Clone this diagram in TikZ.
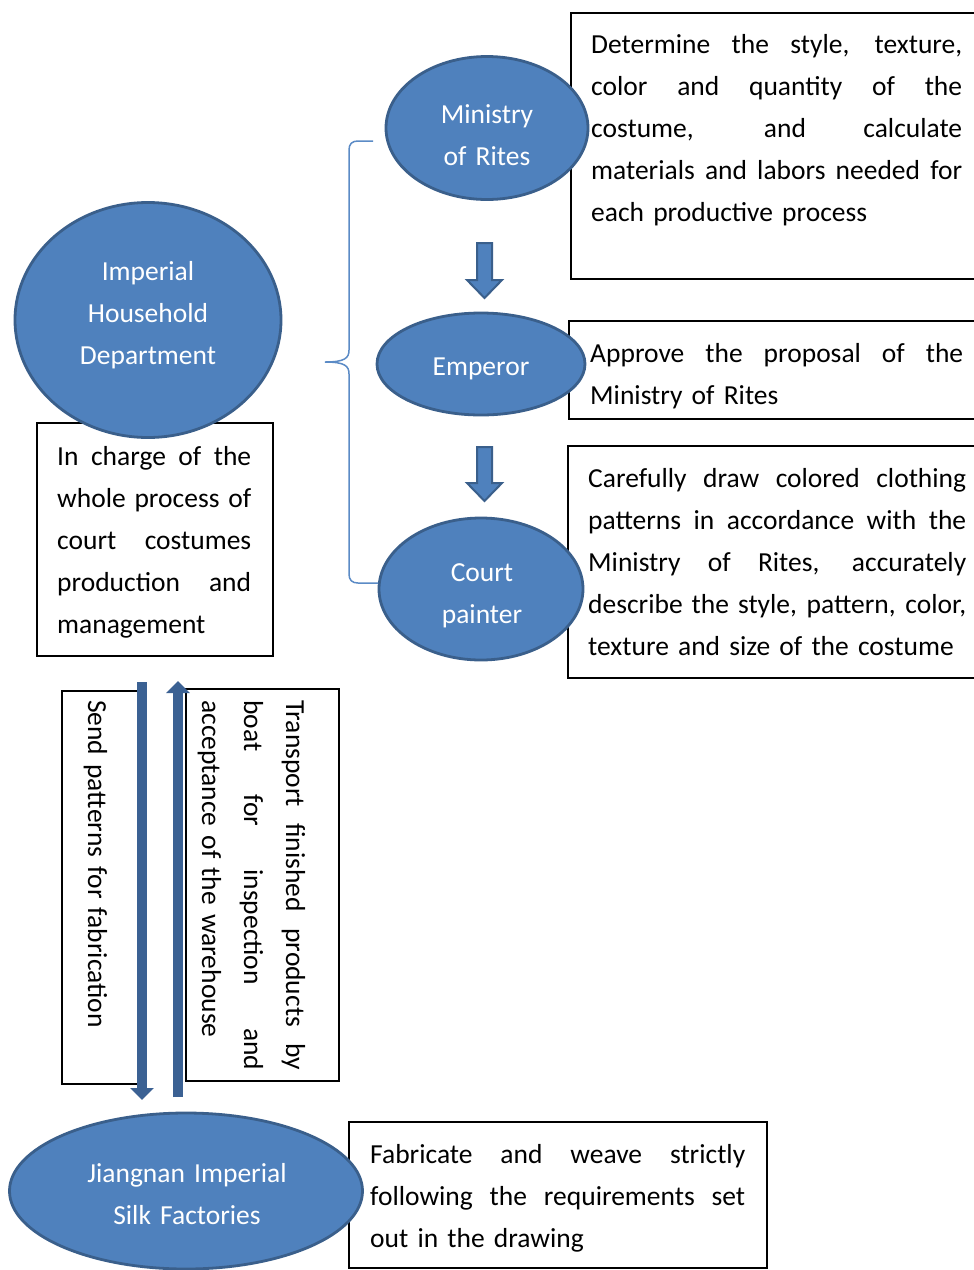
\documentclass[tikz,border=0pt]{standalone}
\usepackage{fontspec}
\setmainfont{Carlito}
\usetikzlibrary{shapes.geometric,arrows.meta}
\definecolor{ellfill}{HTML}{4F81BD}
\definecolor{elldraw}{HTML}{3A5F8B}
\definecolor{arrowc}{HTML}{3B6193}
\definecolor{bracec}{HTML}{5B8BC6}
\newcommand{\jw}{300pt}
\newcommand{\jl}[1]{\makebox[\jw][s]{\spaceskip=0.23em plus 1fil\relax #1}}
\begin{document}
\begin{tikzpicture}[x=1pt,y=-1pt,
  frame/.style={draw=black,line width=1.8pt,fill=white,rectangle,inner sep=0pt,anchor=north west},
  txt/.style={inner sep=0pt,anchor=base west,align=left,text width=#1,
    execute at begin node={\renewcommand{\jw}{#1}},font=\fontsize{27.5}{42}\selectfont},
  ell/.style={ellipse,fill=ellfill,draw=elldraw,line width=2.8pt,inner sep=0pt},
  etxt/.style={inner sep=0pt,anchor=base,align=center,text width=260pt,text=white,font=\fontsize{27.5}{42}\selectfont},
  blockarrow/.style={fill=ellfill,draw=elldraw,line width=2pt,line join=miter},
  longarrow/.style={line width=10pt,draw=arrowc,-{Triangle[width=23pt,length=12pt]}}
]
\clip (0,0) rectangle (974,1270);
\fill[white] (0,0) rectangle (974,1270);

% frames
\node[frame,minimum width=410pt,minimum height=266pt] (f1) at (570,12) {};
\node[frame,minimum width=410pt,minimum height=98pt] (f2) at (568,320) {};
\node[frame,minimum width=410pt,minimum height=232pt] (f3) at (567,445) {};
\node[frame,minimum width=236pt,minimum height=233pt] (f4) at (36,422) {};
\node[frame,minimum width=82pt,minimum height=393pt] (f5) at (61,690) {};
\node[frame,minimum width=153pt,minimum height=392pt] (f6) at (185,688) {};
\node[frame,minimum width=418pt,minimum height=146pt] (f7) at (348,1121) {};

% frame texts
\node[txt=371pt] (t1) at (591,53) {\jl{Determine the style, texture,}\\\jl{color and quantity of the}\\\jl{costume, and calculate}\\\jl{materials and labors needed for}\\each productive process};
\node[txt=373pt] (t2) at (590,362) {\jl{Approve the proposal of the}\\Ministry of Rites};
\node[txt=378pt] (t3) at (588,487) {\jl{Carefully draw colored clothing}\\\jl{patterns in accordance with the}\\\jl{Ministry of Rites, accurately}\\\jl{describe the style, pattern, color,}\\texture and size of the costume};
\node[txt=194pt] (t4) at (57,465) {\jl{In charge of the}\\\jl{whole process of}\\\jl{court costumes}\\\jl{production and}\\management};
\node[txt=375pt] (t7) at (370,1163) {\jl{Fabricate and weave strictly}\\\jl{following the requirements set}\\out in the drawing};
\node[txt=340pt,rotate=-90] (t5) at (88,700) {Send patterns for fabrication};
\node[txt=370pt,rotate=-90] (t6) at (286,700) {\jl{Transport finished products by}\\\jl{boat for inspection and}\\acceptance of the warehouse};

% ellipses
\node[ell,minimum width=202pt,minimum height=143pt] (rites) at (487,128) {};
\node[ell,minimum width=208pt,minimum height=102pt] (emp) at (481,364) {};
\node[ell,minimum width=204pt,minimum height=142pt] (painter) at (481,589) {};
\node[ell,minimum width=266pt,minimum height=235pt] (ihd) at (148,320) {};
\node[ell,minimum width=353pt,minimum height=156pt] (silk) at (186,1191) {};

\node[etxt] (ritesT) at (487,123) {Ministry\\of Rites};
\node[etxt] (empT) at (481,375) {Emperor};
\node[etxt] (painterT) at (482,581) {Court\\painter};
\node[etxt] (ihdT) at (148,280) {Imperial\\Household\\Department};
\node[etxt,text width=340pt] (silkT) at (187,1182) {Jiangnan Imperial\\Silk Factories};

% brace
\coordinate (bt) at (373,141);
\coordinate (bm) at (325,362);
\coordinate (bb) at (378,583);
\draw[bracec,line width=1.5pt] (bt) -- (358,141) .. controls (352,141) and (349,144) .. (349,150)
  -- (349,350) .. controls (349,358) and (345,362) .. (bm)
  .. controls (345,362) and (349,366) .. (349,374)
  -- (349,574) .. controls (349,580) and (352,583) .. (358,583) -- (bb);

% block arrows between ellipses
\draw[blockarrow] (477,243) -- (492,243) -- (492,280) -- (502,280) -- (484.5,298) -- (467,280) -- (477,280) -- cycle;
\draw[blockarrow] (477,447) -- (492,447) -- (492,483) -- (502,483) -- (484.5,501) -- (467,483) -- (477,483) -- cycle;

% long arrows
\coordinate (sendS) at (142,682);
\coordinate (sendE) at (142,1100);
\coordinate (backS) at (178,1097);
\coordinate (backE) at (178,681);
\draw[longarrow] (sendS) -- (sendE);
\draw[longarrow] (backS) -- (backE);
\end{tikzpicture}
\end{document}
